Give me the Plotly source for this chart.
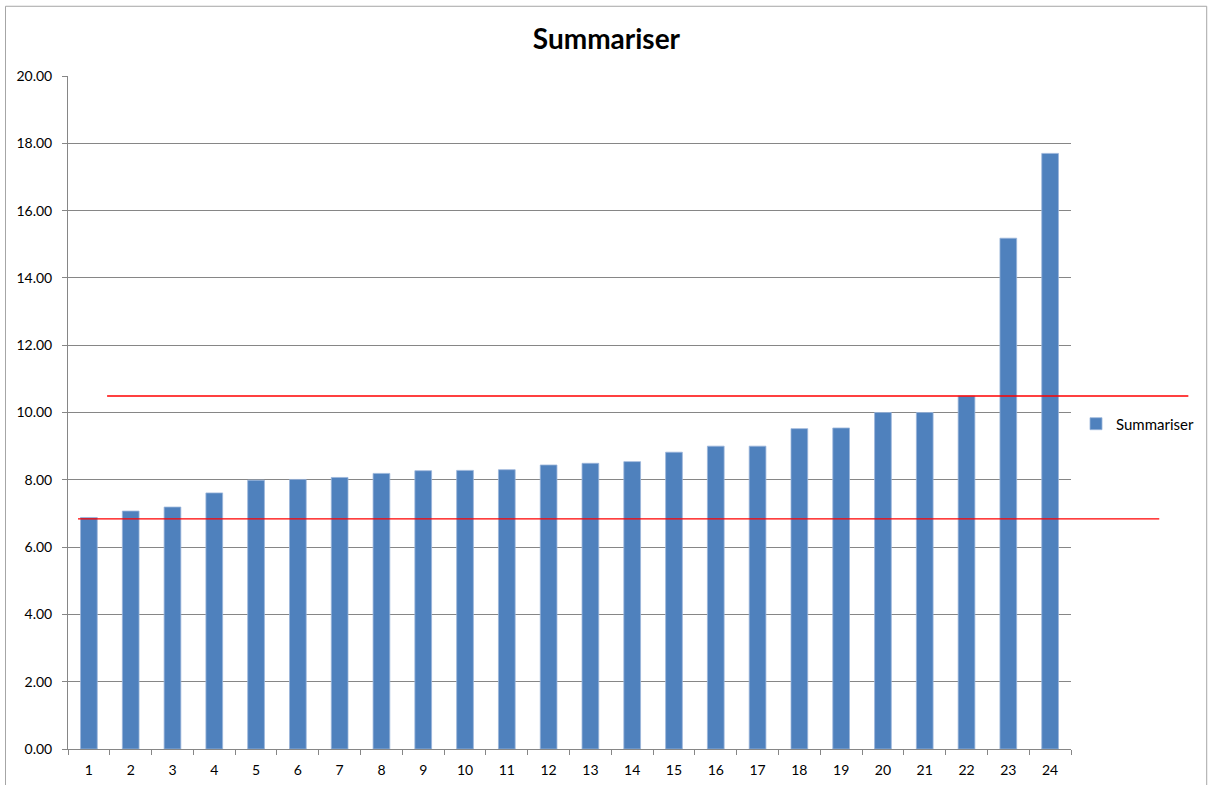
import plotly.graph_objects as go

# %% Data
categories = [str(i) for i in range(1, 25)]
summariser = [6.88, 7.07, 7.19, 7.61, 7.99, 8.01, 8.07, 8.19, 8.27, 8.28, 8.30, 8.44,
              8.49, 8.54, 8.82, 9.00, 9.00, 9.52, 9.54, 10.00, 10.00, 10.49, 15.18, 17.70]
upper_line = 10.49
lower_line = 6.84

FONT = "Lato, Calibri, 'Liberation Sans', sans-serif"
GRID = "#868686"

# %% Figure
fig = go.Figure()
fig.add_trace(go.Bar(x=categories, y=summariser, name="Summariser",
                     marker=dict(color="#4F81BD", line=dict(color="#9bb5da", width=0.8))))

fig.update_layout(
    width=1208, height=785,
    margin=dict(l=68, r=137, t=76, b=36, autoexpand=False),
    paper_bgcolor="white", plot_bgcolor="white",
    font=dict(family=FONT, size=14, color="#000000"),
    title=dict(text="<b>Summariser</b>", x=0.502, xanchor="center", xref="container",
               y=1 - 39 / 785, yanchor="middle", font=dict(size=28, family=FONT)),
    bargap=0.6,
    showlegend=True,
    legend=dict(x=1.005, xanchor="left", y=0.483, yanchor="middle",
                font=dict(size=15), bgcolor="rgba(0,0,0,0)", itemwidth=30),
)

fig.update_xaxes(type="category", showline=True, linecolor=GRID, linewidth=1,
                 ticks="outside", ticklen=5, tickcolor=GRID, tickson="boundaries",
                 showgrid=False, tickfont=dict(size=14), ticklabelstandoff=8)
fig.update_yaxes(range=[0, 20], dtick=2, tickformat=".2f", showline=True,
                 linecolor=GRID, linewidth=1, ticks="outside", ticklen=5, tickcolor=GRID,
                 showgrid=True, gridcolor=GRID, gridwidth=1, zeroline=False,
                 tickfont=dict(size=14), ticklabelstandoff=7)

# red reference lines drawn across plot and legend area
fig.add_shape(type="line", xref="paper", yref="y", x0=0.039, x1=1.117,
              y0=upper_line, y1=upper_line, line=dict(color="#FF0000", width=1.3))
fig.add_shape(type="line", xref="paper", yref="y", x0=0.010, x1=1.088,
              y0=lower_line, y1=lower_line, line=dict(color="#FF0000", width=1.3))

# chart border
fig.add_shape(type="rect", xref="paper", yref="paper", x0=-0.0623, x1=1.1353,
              y0=-0.2, y1=1.1036, line=dict(color="#a6a6a6", width=1), layer="below")

fig.write_html("out.html", config={"displayModeBar": False},
               post_script="document.body.style.margin='0';")
